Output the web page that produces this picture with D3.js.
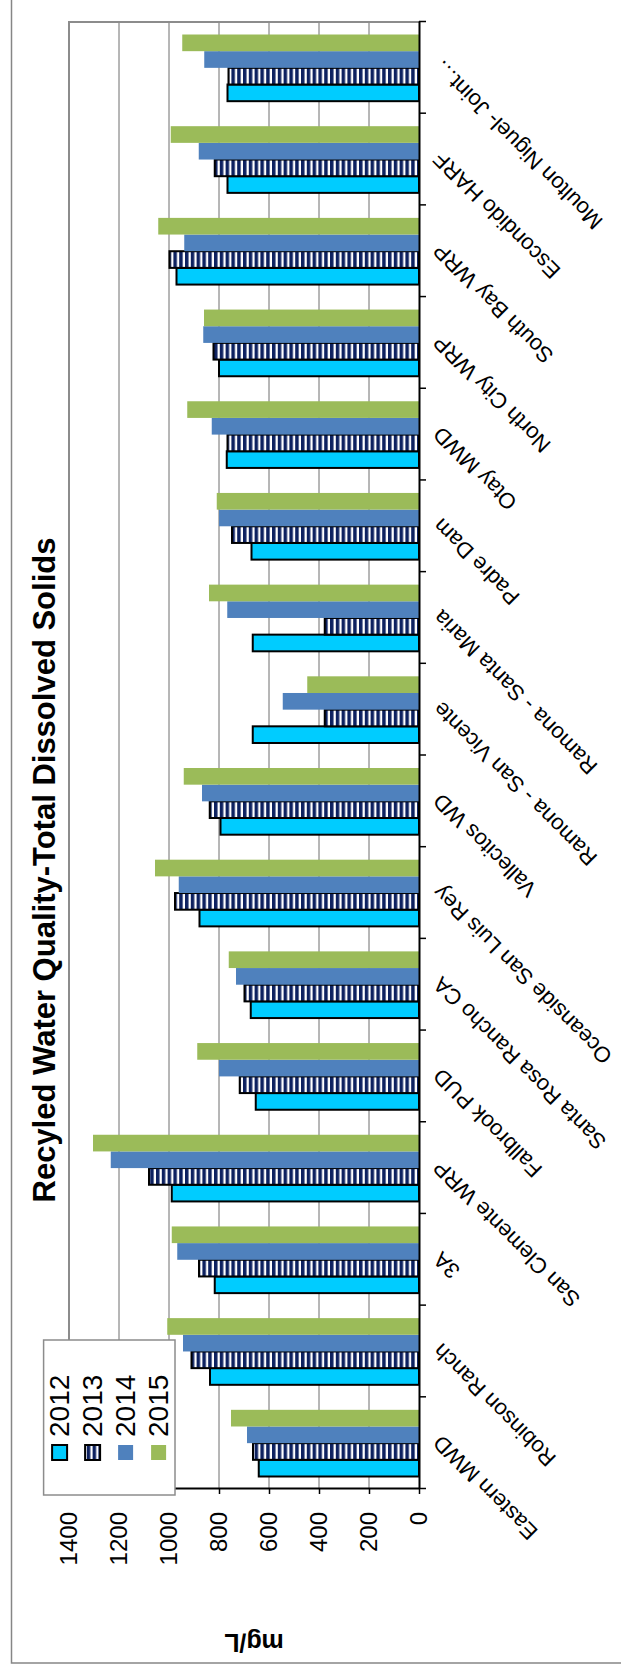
<!DOCTYPE html>
<html lang="en">

<head>
    <meta charset="UTF-8">
    <title>recycled_tds</title>
    <script src="https://cdn.jsdelivr.net/npm/d3@7/dist/d3.min.js"></script>
    <style>
        body { margin: 0; background: #fff; }
        text { font-family: "Liberation Sans", Arial, sans-serif; fill: #000; }
    </style>
</head>

<body>
    <svg width="621" height="1667" id="mainsvg" style="display: block;"></svg>
    <script>
        // data, left to right as in the (unrotated) chart
        const categories = ["Eastern MWD", "Robinson Ranch", "3A", "San Clemente WRP", "Fallbrook PUD",
            "Santa Rosa Rancho CA", "Oceanside San Luis Rey", "Vallecitos WD", "Ramona - San Vicente",
            "Ramona - Santa Maria", "Padre Dam", "Otay MWD", "North City WRP", "South Bay WRP",
            "Escondido HARF", "Moulton Niguel- Joint\u2026"];
        const years = ["2012", "2013", "2014", "2015"];
        const s2012 = [641, 836, 817, 989, 653, 673, 878, 794, 665, 665, 670, 769, 800, 970, 766, 766];
        const s2013 = [664, 910, 880, 1080, 717, 698, 976, 837, 377, 377, 748, 766, 822, 998, 817, 762];
        const s2014 = [688, 944, 967, 1233, 800, 732, 961, 868, 545, 767, 800, 829, 863, 939, 881, 859];
        const s2015 = [752, 1007, 989, 1304, 887, 761, 1056, 941, 447, 840, 809, 927, 860, 1043, 993, 947];
        const yTicks = [0, 200, 400, 600, 800, 1000, 1200, 1400];

        const colors = { "2012": "#00CCFF", "2013": "url(#stripes)", "2014": "#4F81BD", "2015": "#9BBB59" };
        const outlined = { "2012": true, "2013": true, "2014": false, "2015": false };

        const svg = d3.select('#mainsvg');
        // the chart is laid out landscape and then turned a quarter to the left
        const width = +svg.attr('height');   // 1667
        const height = +svg.attr('width');   // 621
        const margin = { top: 69, right: 22, bottom: 202, left: 178 };
        const innerWidth = width - margin.left - margin.right;
        const innerHeight = height - margin.top - margin.bottom;

        const defs = svg.append('defs');
        const pat = defs.append('pattern').attr('id', 'stripes')
            .attr('patternUnits', 'userSpaceOnUse')
            .attr('width', 10).attr('height', 5.8);
        pat.append('rect').attr('width', 10).attr('height', 5.8).attr('fill', '#fff');
        pat.append('rect').attr('width', 10).attr('height', 3.5).attr('fill', '#0d2160');

        const root = svg.append('g').attr('transform', `translate(0, ${width}) rotate(-90)`);

        // chart area border (its far side falls outside the picture)
        root.append('rect')
            .attr('x', 4).attr('y', 11.5).attr('width', width - 3).attr('height', height + 10)
            .attr('fill', 'none').attr('stroke', '#868686').attr('stroke-width', 1.5);

        const g = root.append('g').attr('id', 'maingroup')
            .attr('transform', `translate(${margin.left}, ${margin.top})`);

        const data = categories.map((c, i) => ({
            cat: c, "2012": s2012[i], "2013": s2013[i], "2014": s2014[i], "2015": s2015[i]
        }));

        const xScale = d3.scaleBand().domain(categories).range([0, innerWidth]).padding(0);
        const gap = xScale.bandwidth() * 0.75 / 5.5;
        const x1 = d3.scaleBand().domain(years).range([gap, xScale.bandwidth() - gap]);
        const yScale = d3.scaleLinear().domain([0, 1400]).range([innerHeight, 0]);

        // gridlines
        g.selectAll('.grid').data(yTicks.filter(t => t > 0 && t < 1400)).join('line')
            .attr('class', 'grid')
            .attr('x1', 0).attr('x2', innerWidth)
            .attr('y1', d => yScale(d)).attr('y2', d => yScale(d))
            .attr('stroke', '#6e6e6e').attr('stroke-width', 1);

        // plot area border (top and right)
        g.append('path')
            .attr('d', `M0,${yScale(1400)}H${innerWidth}V${innerHeight}`)
            .attr('fill', 'none').attr('stroke', '#8c8c8c').attr('stroke-width', 2);

        // bars
        g.selectAll('.datagroup').data(data).join('g')
            .attr('class', 'datagroup')
            .attr('transform', d => `translate(${xScale(d.cat)}, 0)`)
            .selectAll('.datarect').data(d => years.map(y => ({ year: y, value: d[y] }))).join('rect')
            .attr('class', 'datarect')
            .attr('x', d => x1(d.year))
            .attr('width', x1.bandwidth())
            .attr('y', d => yScale(d.value))
            .attr('height', d => innerHeight - yScale(d.value))
            .attr('fill', d => colors[d.year])
            .attr('stroke', d => outlined[d.year] ? '#000' : 'none')
            .attr('stroke-width', 2);

        // value axis
        const yAxis = d3.axisLeft(yScale).tickValues(yTicks).tickFormat(d3.format('d'))
            .tickSizeInner(5).tickSizeOuter(0).tickPadding(18);
        const ya = g.append('g').attr('id', 'yaxis').call(yAxis);
        ya.select('.domain').attr('stroke', '#000').attr('stroke-width', 2);
        ya.selectAll('.tick line').attr('stroke', '#000').attr('stroke-width', 1.5);
        ya.selectAll('.tick text').attr('font-size', '24px').attr('fill', '#000');

        // category axis: tick marks between categories
        const xIdx = d3.scaleLinear().domain([0, categories.length]).range([0, innerWidth]);
        const xa = g.append('g').attr('id', 'xaxis')
            .attr('transform', `translate(0, ${innerHeight})`)
            .call(d3.axisBottom(xIdx).tickValues(d3.range(0, categories.length + 1))
                .tickFormat('').tickSizeInner(7).tickSizeOuter(0));
        xa.select('.domain').attr('stroke', '#000').attr('stroke-width', 2);
        xa.selectAll('.tick line').attr('stroke', '#000').attr('stroke-width', 1.5);

        // category labels
        const xl = g.append('g').attr('id', 'xlabels')
            .attr('transform', `translate(0, ${innerHeight})`)
            .call(d3.axisBottom(xScale).tickSize(0).tickPadding(0));
        xl.select('.domain').remove();
        xl.selectAll('.tick text')
            .attr('font-size', '22px').attr('fill', '#000')
            .attr('text-anchor', 'end')
            .attr('dominant-baseline', 'central')
            .attr('y', 0).attr('dy', null)
            .attr('transform', 'translate(4, 18) rotate(-45)');

        // title
        root.append('text')
            .attr('x', 797).attr('y', 55)
            .attr('text-anchor', 'middle')
            .attr('font-size', '31px').attr('font-weight', 'bold')
            .text('Recyled Water Quality-Total Dissolved Solids');

        // axis title
        root.append('text')
            .attr('transform', `translate(33, ${margin.top + innerHeight / 2 + 10}) rotate(-90)`)
            .attr('text-anchor', 'middle')
            .attr('font-size', '25px').attr('font-weight', 'bold')
            .text('mg/L');

        // legend
        const legend = root.append('g').attr('id', 'legend').attr('transform', 'translate(172, 43.6)');
        legend.append('rect').attr('width', 155).attr('height', 131.4)
            .attr('fill', '#fff').attr('stroke', '#8c8c8c').attr('stroke-width', 1.5);
        const rowY = d3.scalePoint().domain(years).range([16, 115]);
        const items = legend.selectAll('.item').data(years).join('g')
            .attr('class', 'item')
            .attr('transform', d => `translate(0, ${rowY(d)})`);
        items.append('rect')
            .attr('x', 35).attr('y', -7.5).attr('width', 15).attr('height', 15)
            .attr('fill', d => colors[d])
            .attr('stroke', d => outlined[d] ? '#000' : 'none')
            .attr('stroke-width', 2);
        items.append('text')
            .attr('x', 58).attr('dominant-baseline', 'central')
            .attr('font-size', '28px')
            .text(d => d);
    </script>
</body>

</html>
